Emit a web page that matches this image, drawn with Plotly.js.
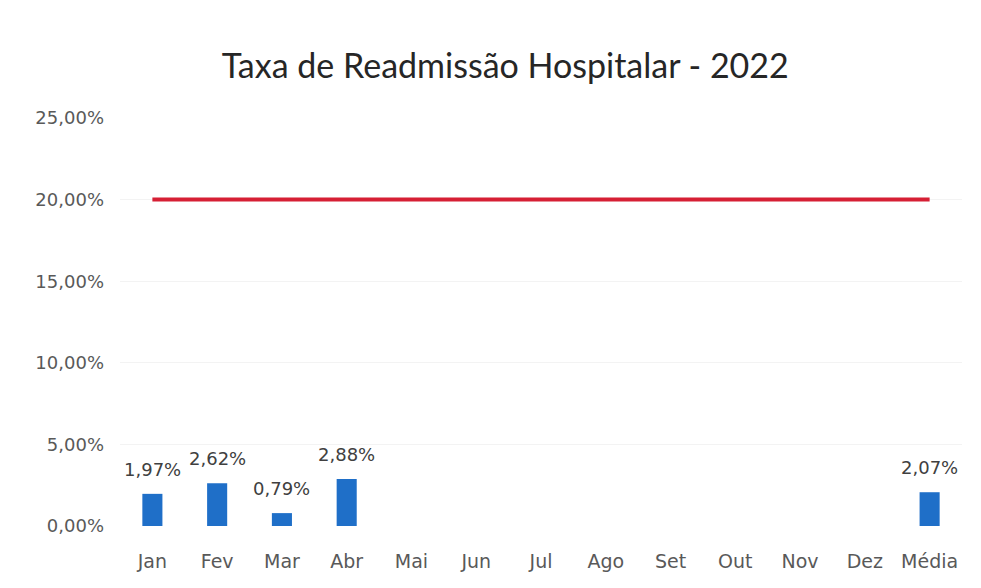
<!DOCTYPE html>
<html><head><meta charset="utf-8">
<script src="https://cdn.plot.ly/plotly-3.0.1.min.js"></script>
<style>html,body{margin:0;padding:0;background:#fff}#chart{width:981px;height:588px}</style>
</head><body><div id="chart"></div>
<script>
const categories = ["Jan","Fev","Mar","Abr","Mai","Jun","Jul","Ago","Set","Out","Nov","Dez","Média"];
const taxa = [0.0197,0.0262,0.0079,0.0288,null,null,null,null,null,null,null,null,0.0207];
const meta = [0.20,0.20,0.20,0.20,0.20,0.20,0.20,0.20,0.20,0.20,0.20,0.20,0.20];
const yTicks = [0,0.05,0.10,0.15,0.20,0.25];

const tfont = "Lato, 'Open Sans', sans-serif";
const font = "'DejaVu Sans', sans-serif";
const traces = [
  {type:"bar", x:categories, y:taxa, name:"Taxa", marker:{color:"#1f6fc8"}, width:0.31, hoverinfo:"x+y"},
  {type:"scatter", mode:"lines", x:categories, y:meta, name:"Meta", line:{color:"#d61f34", width:4}}
];
const annotations = [];
categories.forEach((c,i)=>{
  if (taxa[i]!==null) annotations.push({x:c, y:taxa[i], xref:"x", yref:"y",
    text:(taxa[i]*100).toFixed(2).replace(".",",")+"%", showarrow:false,
    yanchor:"bottom", yshift:12, font:{family:font,size:18,color:"#404040"}});
});
const layout = {
  width:981, height:588,
  margin:{l:120,r:19,t:118,b:62},
  paper_bgcolor:"#fff", plot_bgcolor:"#fff",
  showlegend:false,
  separators:", ",
  title:{text:"Taxa de Readmissão Hospitalar - 2022", x:0.515, xanchor:"center", y:1-66/588, yanchor:"middle", yref:"container",
    font:{family:tfont,size:34,color:"#262626"}},
  xaxis:{type:"category", tickfont:{family:font,size:19,color:"#595959"}, showgrid:false, zeroline:false, showline:false, ticks:"", ticklabelstandoff:22},
  yaxis:{range:[0,0.25], tickvals:yTicks, tickformat:".2%", tickfont:{family:font,size:18,color:"#595959"}, showgrid:true, gridcolor:"#f3f3f3", zeroline:false, showline:false, ticklabelstandoff:15},
  annotations:annotations
};
Plotly.newPlot("chart", traces, layout, {displayModeBar:false, staticPlot:true});
</script></body></html>
